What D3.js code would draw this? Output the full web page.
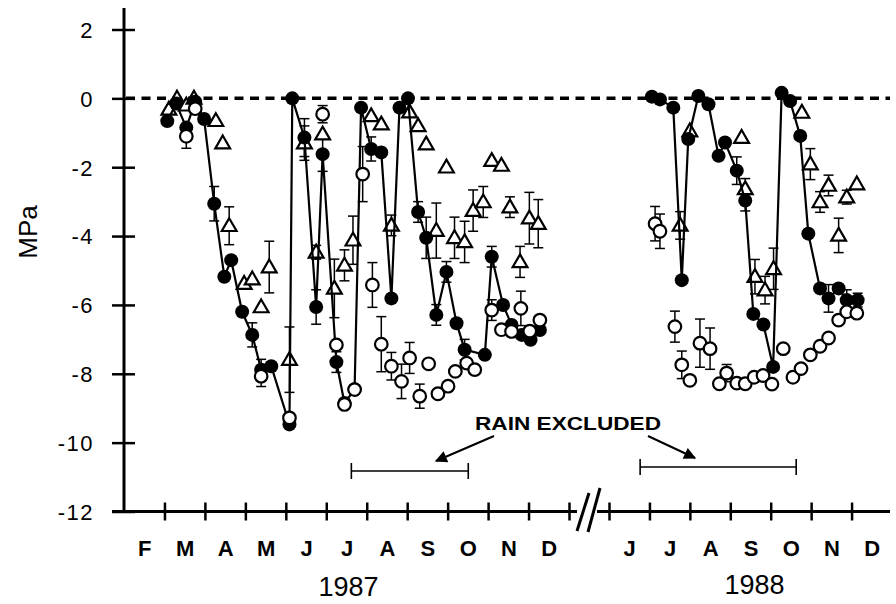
<!DOCTYPE html>
<html><head><meta charset="utf-8">
<script src="https://cdn.jsdelivr.net/npm/d3@7"></script>
<style>
body{margin:0;background:#fff}
text{font-family:"Liberation Sans",Arial,Helvetica,sans-serif;fill:#000}
</style>
</head><body>
<svg id="c" width="896" height="604"></svg>
<script>
// x values: months since 1 Feb 1987 (1988 section starts at 16 = 1 Jun 1988)
const months1987 = ["F","M","A","M","J","J","A","S","O","N","D"];
const months1988 = ["J","J","A","S","O","N","D"];
const yTicks = [2,0,-2,-4,-6,-8,-10,-12];
const years = ["1987","1988"];
const rainLabel = "RAIN EXCLUDED";
const rainExcluded = [[5.62,8.51],[16.77,20.63]];

// Filled circles (connected)
const filled1987X = [1.07,1.29,1.54,1.76,1.98,2.23,2.48,2.65,2.92,3.17,3.39,3.64,4.09,4.16,4.46,4.75,4.91,5.25,5.45,5.70,5.86,6.11,6.36,6.61,6.81,7.02,7.27,7.47,7.72,7.97,8.22,8.42,8.92,9.09,9.37,9.58,9.83,10.05,10.28];
const filled1987Y = [-0.66,-0.15,-0.85,-0.1,-0.6,-3.06,-5.18,-4.7,-6.2,-6.87,-7.88,-7.78,-9.47,0,-1.14,-6.06,-1.62,-7.66,-8.85,-8.45,-0.27,-1.47,-1.57,-5.81,-0.27,0,-3.3,-4.05,-6.29,-5.04,-6.53,-7.3,-7.45,-4.6,-6.0,-6.58,-6.87,-7.01,-6.73];
const filled1987E = [0,0,0,0,0,0.5,0,0,0,0.35,0.3,0,0,0,0.55,0.5,0.5,0.3,0,0,0,0.35,0,0,0,0,0.3,0.6,0.3,0.3,0,0.3,0,0.3,0,0,0,0,0];
const filled1988X = [17.06,17.26,17.59,17.80,17.96,18.21,18.46,18.71,18.87,19.16,19.37,19.57,19.82,20.06,20.27,20.48,20.73,20.93,21.22,21.43,21.68,21.88,22.15];
const filled1988Y = [0.05,-0.03,-0.27,-5.28,-1.18,0.07,-0.17,-1.67,-1.28,-2.1,-2.97,-6.26,-6.57,-7.8,0.16,-0.08,-1.09,-3.93,-5.52,-5.81,-5.52,-5.86,-5.86];
const filled1988E = [0,0,0,0,0,0,0,0,0,0.4,0.3,0,0,0,0,0,0,0,0,0.4,0,0.3,0.2];

// Open circles
const open1987X = [1.54,1.76,3.39,4.09,4.91,5.25,5.45,5.70,5.90,6.14,6.36,6.61,6.86,7.06,7.31,7.53,7.76,8.01,8.19,8.47,8.67,9.09,9.33,9.58,9.81,10.03,10.28];
const open1987Y = [-1.1,-0.3,-8.07,-9.28,-0.46,-7.16,-8.89,-8.46,-2.2,-5.42,-7.14,-7.78,-8.22,-7.54,-8.65,-7.71,-8.58,-8.36,-7.93,-7.69,-7.88,-6.15,-6.72,-6.77,-6.1,-6.76,-6.44];
const open1987E = [0.35,0,0.3,0,0.25,0,0,0,0.8,0.65,0.8,0.4,0.5,0.45,0.35,0,0,0,0,0,0,0.3,0,0,0.5,0,0];
const open1988X = [17.14,17.26,17.63,17.80,18.00,18.25,18.50,18.73,18.91,19.16,19.37,19.59,19.81,20.03,20.31,20.55,20.75,20.98,21.22,21.43,21.68,21.88,22.13];
const open1988Y = [-3.64,-3.86,-6.63,-7.74,-8.19,-7.11,-7.27,-8.29,-7.98,-8.27,-8.29,-8.1,-8.05,-8.3,-7.27,-8.1,-7.85,-7.45,-7.2,-6.96,-6.44,-6.2,-6.24];
const open1988E = [0.5,0.5,0.45,0.4,0,0.7,0.6,0,0.25,0,0,0,0,0,0,0,0,0,0,0,0,0,0];

// Open triangles
const tri1987X = [1.11,1.31,1.54,1.73,2.27,2.44,2.60,2.97,3.17,3.39,3.59,4.09,4.46,4.75,4.91,5.20,5.45,5.66,6.11,6.36,6.61,7.06,7.27,7.47,7.72,7.97,8.17,8.42,8.63,8.88,9.09,9.33,9.54,9.79,10.02,10.24];
const tri1987Y = [-0.32,0,-0.2,0,-0.65,-1.3,-3.7,-5.38,-5.25,-6.06,-4.9,-7.59,-1.3,-4.47,-1.04,-5.52,-4.85,-4.12,-0.51,-0.75,-3.69,-0.4,-0.8,-1.33,-3.84,-2.0,-4.05,-4.17,-3.26,-3.01,-1.81,-1.95,-3.16,-4.75,-3.48,-3.64];
const tri1987E = [0,0,0,0,0,0,0.55,0,0,0,0.75,0.95,0.5,0.2,0,0.85,0.45,0.7,0,0,0.3,0,0,0,0.8,0,0.6,0.6,0.6,0.45,0,0,0.3,0.45,0.75,0.7];
const tri1988X = [17.76,18.00,19.28,19.37,19.61,19.86,20.07,20.77,20.98,21.22,21.43,21.68,21.88,22.13];
const tri1988Y = [-3.69,-0.95,-1.14,-2.63,-5.18,-5.57,-4.95,-0.41,-1.91,-3.01,-2.53,-3.98,-2.87,-2.49];
const tri1988E = [0.4,0,0,0.3,0.5,0.4,0.6,0,0.45,0.3,0.3,0.5,0.2,0];

const zip = (xs,ys,es) => xs.map((v,i)=>({x:v,y:ys[i],e:es[i]}));
const filledSegs = [zip(filled1987X,filled1987Y,filled1987E), zip(filled1988X,filled1988Y,filled1988E)];
const openPts = zip(open1987X,open1987Y,open1987E).concat(zip(open1988X,open1988Y,open1988E));
const triPts = zip(tri1987X,tri1987Y,tri1987E).concat(zip(tri1988X,tri1988Y,tri1988E));
const filledPts = filledSegs[0].concat(filledSegs[1]);

const svg = d3.select("#c");
const x = d3.scaleLinear().domain([0,11,16,23]).range([124,569,609,892]);
const y = d3.scaleLinear().domain([-12,2]).range([511.5,29.5]);

// zero dashed line
svg.append("line").attr("x1",126).attr("x2",890).attr("y1",y(0)).attr("y2",y(0))
  .attr("stroke","#000").attr("stroke-width",3.5).attr("stroke-dasharray","9,6.5");

// Y axis
const ya = svg.append("g").attr("transform","translate(124,0)")
  .call(d3.axisLeft(y).tickValues(yTicks).tickSize(12).tickPadding(18).tickFormat(d=>d));
ya.select(".domain").remove();
ya.selectAll(".tick line").attr("x1",11).attr("stroke","#000").attr("stroke-width",2.5);
ya.selectAll(".tick text").attr("font-size",22).attr("letter-spacing","1.5px")
  .attr("font-family","Liberation Sans, Arial, sans-serif").attr("dy","0.36em");
svg.append("line").attr("x1",124).attr("x2",124).attr("y1",8).attr("y2",y(-12)+1)
  .attr("stroke","#000").attr("stroke-width",3);

// X axis lines (broken)
const axY = y(-12);
svg.append("line").attr("x1",112).attr("x2",577).attr("y1",axY).attr("y2",axY).attr("stroke","#000").attr("stroke-width",3);
svg.append("line").attr("x1",597).attr("x2",890).attr("y1",axY).attr("y2",axY).attr("stroke","#000").attr("stroke-width",3);
// break marks
[[577,531,589,493],[588,532,600,488]].forEach(s=>{
  svg.append("line").attr("x1",s[0]).attr("y1",s[1]).attr("x2",s[2]).attr("y2",s[3]).attr("stroke","#000").attr("stroke-width",3);
});
const tickVals = d3.range(1,12).concat(d3.range(16,23));
const xa = svg.append("g").attr("transform",`translate(0,${axY})`)
  .call(d3.axisBottom(x).tickValues(tickVals).tickSize(9).tickFormat(""));
xa.select(".domain").remove();
xa.selectAll(".tick line").attr("y1",-9).attr("stroke","#000").attr("stroke-width",2.5);

// month labels via axis at month centres
const labVals = months1987.map((m,i)=>i+0.5).concat(months1988.map((m,i)=>16+i+0.5));
const labs = months1987.concat(months1988);
const xl = svg.append("g").attr("transform",`translate(0,${axY})`)
  .call(d3.axisBottom(x).tickValues(labVals).tickSize(0).tickPadding(29).tickFormat((d,i)=>labs[i]));
xl.select(".domain").remove();
xl.selectAll(".tick text").attr("font-size",22).attr("font-weight","bold").attr("font-family","Liberation Sans, Arial, sans-serif");

// years
svg.append("text").attr("x",x(5.55)).attr("y",596).attr("text-anchor","middle").attr("font-size",27).text(years[0]);
svg.append("text").attr("x",x(19.6)).attr("y",594).attr("text-anchor","middle").attr("font-size",27).text(years[1]);

// y label
svg.append("text").attr("transform","translate(37,232) rotate(-90)").attr("text-anchor","middle")
  .attr("font-size",26).text("MPa");

// rain excluded bars
const barY = [471,467];
rainExcluded.forEach((r,i)=>{
  const g = svg.append("g").attr("stroke","#000").attr("stroke-width",1.6);
  g.append("line").attr("x1",x(r[0])).attr("x2",x(r[1])).attr("y1",barY[i]).attr("y2",barY[i]);
  g.append("line").attr("x1",x(r[0])).attr("x2",x(r[0])).attr("y1",barY[i]-8).attr("y2",barY[i]+8);
  g.append("line").attr("x1",x(r[1])).attr("x2",x(r[1])).attr("y1",barY[i]-8).attr("y2",barY[i]+8);
});
svg.append("text").attr("x",568).attr("y",430).attr("text-anchor","middle").attr("font-size",19)
  .attr("font-weight","bold").attr("textLength",186).attr("lengthAdjust","spacingAndGlyphs").text(rainLabel);
const defs = svg.append("defs");
defs.append("marker").attr("id","ah").attr("viewBox","0 0 10 10").attr("refX",9).attr("refY",5)
  .attr("markerWidth",7).attr("markerHeight",6).attr("markerUnits","strokeWidth").attr("orient","auto")
  .append("path").attr("d","M0,0 L10,5 L0,10 Z").attr("fill","#000");
[[494,436,436,461],[648,436,695,458]].forEach(a=>{
  svg.append("line").attr("x1",a[0]).attr("y1",a[1]).attr("x2",a[2]).attr("y2",a[3])
    .attr("stroke","#000").attr("stroke-width",2).attr("marker-end","url(#ah)");
});

// error bars
const allErr = triPts.concat(filledPts, openPts).filter(d=>d.e>0);
const eg = svg.append("g").attr("stroke","#000").attr("stroke-width",1.5);
allErr.forEach(d=>{
  const cx = x(d.x), y1 = y(d.y+d.e), y2 = y(d.y-d.e);
  eg.append("line").attr("x1",cx).attr("x2",cx).attr("y1",y1).attr("y2",y2);
  eg.append("line").attr("x1",cx-5).attr("x2",cx+5).attr("y1",y1).attr("y2",y1);
  eg.append("line").attr("x1",cx-5).attr("x2",cx+5).attr("y1",y2).attr("y2",y2);
});

// triangles
const tri = d3.symbol().type(d3.symbolTriangle).size(95);
svg.append("g").selectAll("path").data(triPts).join("path")
  .attr("d",tri).attr("transform",d=>`translate(${x(d.x)},${y(d.y)+1})`)
  .attr("fill","#fff").attr("stroke","#000").attr("stroke-width",2.2).attr("stroke-linejoin","miter");

// connecting lines for filled series
const line = d3.line().x(d=>x(d.x)).y(d=>y(d.y));
filledSegs.forEach(seg=>{
  svg.append("path").datum(seg).attr("d",line).attr("fill","none").attr("stroke","#000").attr("stroke-width",2.2);
});

// filled circles
svg.append("g").selectAll("circle").data(filledPts).join("circle")
  .attr("cx",d=>x(d.x)).attr("cy",d=>y(d.y)).attr("r",7).attr("fill","#000");

// open circles
svg.append("g").selectAll("circle").data(openPts).join("circle")
  .attr("cx",d=>x(d.x)).attr("cy",d=>y(d.y)).attr("r",6.3)
  .attr("fill","#fff").attr("stroke","#000").attr("stroke-width",2.2);
</script>
</body></html>
